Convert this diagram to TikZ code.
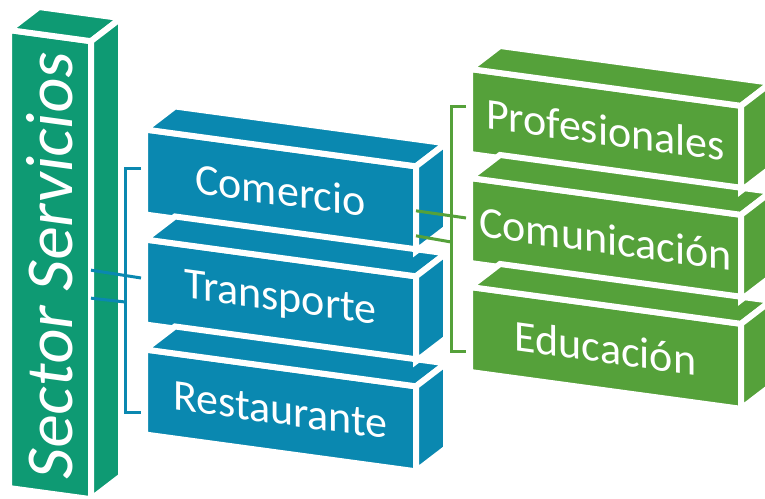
\documentclass[tikz,border=0pt]{standalone}
\usepackage{fontspec}
\setmainfont{Carlito}
\usetikzlibrary{calc}
\definecolor{sectorgreen}{HTML}{0E9A73}
\definecolor{ramablue}{HTML}{0A88B0}
\definecolor{ramagreen}{HTML}{55A13A}
\begin{document}
\begin{tikzpicture}[x=1pt,y=-1pt,
front/.style={draw=white,line width=6pt,inner sep=0pt,outer sep=0pt,yslant=-0.136,
  text=white,minimum width=271pt,minimum height=85pt,font=\fontsize{44}{48}\selectfont},
face/.style={draw=white,line width=6pt},
bluelink/.style={draw=ramablue,line width=3pt},
greenlink/.style={draw=ramagreen,line width=3pt}]
\useasboundingbox (0,0) rectangle (765,498);
% front faces
\node[front,fill=sectorgreen,minimum width=82pt,minimum height=458pt,
  font=\fontsize{67}{72}\selectfont] (sector) at (50,264.6) {\rotatebox{90}{Sector Servicios}};
\node[front,fill=ramablue] (restaurante) at (280.5,410.4) {Restaurante};
\node[front,fill=ramablue] (transporte) at (280.5,300.4) {Transporte};
\node[front,fill=ramablue] (comercio) at (280.5,190.4) {Comercio};
\node[front,fill=ramagreen] (educacion) at (605.5,347.9) {Educación};
\node[front,fill=ramagreen] (comunicacion) at (605.5,238.9) {Comunicación};
\node[front,fill=ramagreen] (profesionales) at (605.5,129.9) {Profesionales};
% top and side faces
\foreach \n/\c in {sector/sectorgreen,restaurante/ramablue,transporte/ramablue,comercio/ramablue,
  educacion/ramagreen,comunicacion/ramagreen,profesionales/ramagreen}{
  \path[face,fill=\c] (\n.north west) -- (\n.north east) -- ++(30,-23)
    -- ($(\n.north west)+(30,-23)$) -- cycle;
  \path[face,fill=\c] (\n.north east) -- ++(30,-23)
    -- ($(\n.south east)+(30,-23)$) -- (\n.south east) -- cycle;
}
% brackets
\draw[bluelink] ([xshift=-4pt,yshift=3pt]comercio.west) -| ([xshift=-20pt,yshift=-21pt]restaurante.west)
  -- ([xshift=-4pt,yshift=-21pt]restaurante.west);
\draw[bluelink] (sector.east) -- ([xshift=-4pt,yshift=4pt]transporte.west);
\draw[bluelink] ([yshift=-28pt]sector.east) -- ([xshift=-20pt,yshift=-20pt]transporte.west);
\draw[greenlink] ([xshift=-4pt,yshift=4.5pt]profesionales.west) -| ([xshift=-19pt,yshift=-22.5pt]educacion.west)
  -- ([xshift=-4pt,yshift=-22.5pt]educacion.west);
\draw[greenlink] ([yshift=-2pt]comercio.east) -- ([xshift=-4pt,yshift=2.5pt]comunicacion.west);
\draw[greenlink] ([yshift=-27pt]comercio.east) -- ([xshift=-19pt,yshift=-21.5pt]comunicacion.west);
\end{tikzpicture}
\end{document}
